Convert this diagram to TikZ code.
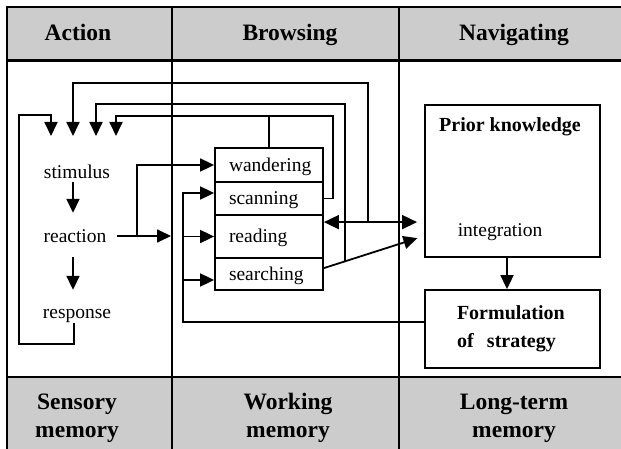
\documentclass[tikz,border=0pt]{standalone}
\usepackage{fontspec}
\setmainfont{Liberation Serif}
\usetikzlibrary{arrows.meta}
\begin{document}
\begin{tikzpicture}[x=1pt,y=-1pt,
  frame/.style={line width=2pt},
  ln/.style={line width=1.8pt},
  arr/.style={ln,-{Triangle[length=14pt,width=13pt]}},
  darr/.style={ln,{Triangle[length=15pt,width=14pt]}-{Triangle[length=15pt,width=14pt]}},
  hd/.style={font=\bfseries\fontsize{23.5}{28}\selectfont, align=center, inner sep=0pt},
  hd1/.style={font=\bfseries\fontsize{23.5}{28}\selectfont, inner sep=0pt, text height=15.5pt, text depth=0pt},
  txt/.style={font=\fontsize{19.5}{23}\selectfont, inner sep=0pt, text height=13pt, text depth=0pt},
  sub/.style={draw, ln, minimum width=108pt, text width=80pt, align=left, inner xsep=14pt, inner ysep=0pt,
    font=\fontsize{19.5}{23}\selectfont, text height=13pt, text depth=0pt},
  bx/.style={draw, ln, minimum width=175pt, inner sep=0pt}
]
\useasboundingbox (0,0) rectangle (621,449);
% table frame
\fill[black!20] (7,7) rectangle (621,61);
\fill[black!20] (7,377) rectangle (621,449);
\draw[frame] (7,449) -- (7,7) -- (621,7);
\draw[line width=3pt] (7,61) -- (621,61);
\draw[frame] (7,377) -- (621,377);
\draw[frame] (172,7) -- (172,449);
\draw[frame] (399,7) -- (399,449);
% headers / footers
\node[hd1] (hA) at (78,33) {Action};
\node[hd1] (hB) at (290,33) {Browsing};
\node[hd1] (hN) at (514,33) {Navigating};
\node[hd] (fS) at (77,418) {Sensory\\memory};
\node[hd] (fW) at (288,418) {Working\\memory};
\node[hd] (fL) at (514,418) {Long-term\\memory};
% action column
\node[txt] (stim) at (77,172) {stimulus};
\node[txt] (react) at (75,236) {reaction};
\node[txt] (resp) at (77,312) {response};
% browsing box
\node[sub, minimum height=34pt] (wander) at (269,165) {wandering};
\node[sub, minimum height=33pt] (scan) at (269,198.5) {scanning};
\node[sub, minimum height=43pt] (read) at (269,236.5) {reading};
\node[sub, minimum height=32pt] (srch) at (269,274) {searching};
% navigating column
\node[bx, minimum height=152pt] (prior) at (512.5,181) {};
\node[font=\bfseries\fontsize{20}{24}\selectfont, inner sep=0pt] (pk) at (510,127) {Prior knowledge};
\node[txt] (integ) at (500,230) {integration};
\node[bx, minimum height=78pt, text width=111pt, inner xsep=32pt, align=left, font=\bfseries\fontsize{20}{28}\selectfont] (form) at (512.5,329) {Formulation\\of\ \ strategy};
% helper coordinates
\coordinate (a1) at (51,136);
\coordinate (a2) at (73,136);
\coordinate (a3) at (96,136);
\coordinate (a4) at (116,136);
\coordinate (lb) at (19,344);
\coordinate (lt) at (19,115);
\coordinate (rin) at (171,236);
\coordinate (br) at (137,236);
\coordinate (bus) at (183,322);
\coordinate (j1) at (368,223);
\coordinate (t1) at (368,83);
\coordinate (j2) at (345,262);
\coordinate (t2) at (345,104);
\coordinate (t3) at (333,116);
\coordinate (scw) at ([yshift=5.5pt]scan.west);
\coordinate (srw) at ([yshift=-6pt]srch.west);
\coordinate (fw) at ([yshift=7pt]form.west);
\coordinate (dl) at ([yshift=-8pt]read.north east);
\coordinate (sl) at ([yshift=-11pt]srch.north east);
\coordinate (sr) at ([yshift=-55pt]prior.west);
\coordinate (rs) at ([xshift=-3pt,yshift=-4pt]resp.south);
% action connectors
\draw[arr, shorten <=3.5pt, shorten >=16.5pt] (stim.south -| a2) -- (react.north -| a2);
\draw[arr, shorten <=14.5pt, shorten >=15.5pt] (react.south -| a2) -- (resp.north -| a2);
\draw[arr] (rs) |- (lb) |- (lt -| a1) -- (a1);
\draw[arr, shorten <=10pt] (react.east) -- (rin);
\draw[arr] (br) |- (wander.west);
% bus from formulation
\draw[arr] (fw) -| (bus |- scw) -- (scw);
\draw[arr] (bus |- read.west) -- (read.west);
\draw[arr] (bus |- srw) -- (srw);
% feedback lines
\draw[arr] (j1) -- (t1) -- (t1 -| a2) -- (a2);
\draw[arr] (j2) -- (t2) -- (t2 -| a3) -- (a3);
\draw[arr] (scan.east) -| (t3) -- (t3 -| a4) -- (a4);
\draw[ln] (wander.north) -- (wander.north |- t3);
% to integration
\draw[darr, shorten >=7pt] (dl) -- (dl -| prior.west);
\draw[arr, shorten >=7pt] (sl) -- (sr);
\draw[arr] ([xshift=-5.5pt]prior.south) -- ([xshift=-5.5pt]form.north);
\end{tikzpicture}
\end{document}
